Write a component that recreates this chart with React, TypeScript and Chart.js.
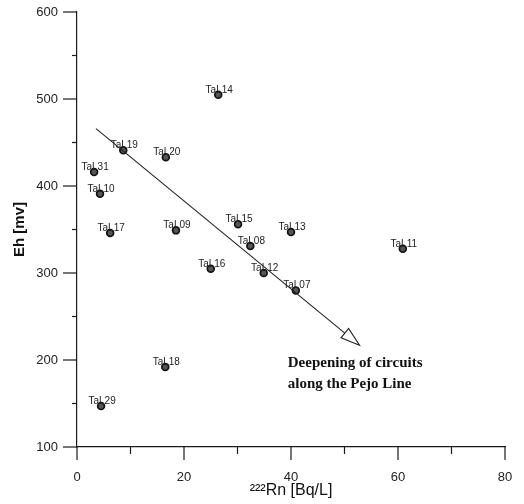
import React, { useEffect, useRef } from "react";
import { Chart, registerables } from "chart.js";

Chart.register(...registerables);

// ---- data ----
const sampleNames = ["TaL14", "TaL19", "TaL20", "TaL31", "TaL10", "TaL17", "TaL09", "TaL15", "TaL13", "TaL08", "TaL16", "TaL12", "TaL07", "TaL18", "TaL29", "TaL11"];
const radonValues = [26.4, 8.65, 16.6, 3.2, 4.3, 6.2, 18.5, 30.1, 40.0, 32.4, 25.0, 34.9, 40.9, 16.5, 4.5, 60.9];
const ehValues = [505, 441, 433, 416, 391, 346, 349, 356, 347, 331, 305, 300, 280, 192, 147, 328];

const xMajorTicks = [0, 20, 40, 60, 80];
const xMinorTicks = [10, 30, 50, 70];
const yMajorTicks = [100, 200, 300, 400, 500, 600];
const yMinorTicks = [150, 250, 350, 450, 550];

const trendStart = [3.55, 466];
const trendEnd = [52.8, 217];

const noteLines = ["Deepening of circuits", "along the Pejo Line"];
const noteAnchor = [39.4, 192];

const xTitle = "\u00B2\u00B2\u00B2Rn [Bq/L]";
const yTitle = "Eh [mv]";

const SANS = "'Liberation Sans', Arial, sans-serif";
const SERIF = "'Liberation Serif', 'Times New Roman', serif";

const decorPlugin = {
  id: "decor",
  afterDatasetsDraw(chart: any) {
    const ctx = chart.ctx;
    const xs = chart.scales.x;
    const ys = chart.scales.y;
    const area = chart.chartArea;
    ctx.save();
    ctx.strokeStyle = "#1a1a1a";
    ctx.lineWidth = 1.2;
    const seg = (x1: number, y1: number, x2: number, y2: number) => {
      ctx.beginPath();
      ctx.moveTo(x1, y1);
      ctx.lineTo(x2, y2);
      ctx.stroke();
    };
    xMajorTicks.forEach((v) => {
      const px = xs.getPixelForValue(v);
      seg(px, area.bottom, px, area.bottom + 13);
    });
    xMinorTicks.forEach((v) => {
      const px = xs.getPixelForValue(v);
      seg(px, area.bottom, px, area.bottom + 7);
    });
    yMajorTicks.forEach((v) => {
      const py = ys.getPixelForValue(v);
      seg(area.left - 14, py, area.left, py);
    });
    yMinorTicks.forEach((v) => {
      const py = ys.getPixelForValue(v);
      seg(area.left - 5, py, area.left, py);
    });

    // trend arrow
    const sx = xs.getPixelForValue(trendStart[0]);
    const sy = ys.getPixelForValue(trendStart[1]);
    const tx = xs.getPixelForValue(trendEnd[0]);
    const ty = ys.getPixelForValue(trendEnd[1]);
    const dx = tx - sx;
    const dy = ty - sy;
    const len = Math.hypot(dx, dy);
    const ux = dx / len;
    const uy = dy / len;
    const headLen = 19;
    const headHalf = 6;
    const bx = tx - ux * headLen;
    const by = ty - uy * headLen;
    ctx.lineWidth = 1.1;
    ctx.strokeStyle = "#222";
    seg(sx, sy, bx, by);
    ctx.beginPath();
    ctx.moveTo(tx, ty);
    ctx.lineTo(bx - uy * headHalf, by + ux * headHalf);
    ctx.lineTo(bx + uy * headHalf, by - ux * headHalf);
    ctx.closePath();
    ctx.fillStyle = "#fff";
    ctx.fill();
    ctx.stroke();

    // point labels
    ctx.font = `10px ${SANS}`;
    ctx.fillStyle = "#222";
    ctx.textAlign = "center";
    ctx.textBaseline = "alphabetic";
    sampleNames.forEach((name, i) => {
      const px = xs.getPixelForValue(radonValues[i]);
      const py = ys.getPixelForValue(ehValues[i]);
      ctx.fillText(name, px + 1, py - 2);
    });

    // note
    ctx.font = `bold 15px ${SERIF}`;
    ctx.fillStyle = "#111";
    ctx.textAlign = "left";
    const nx = xs.getPixelForValue(noteAnchor[0]);
    const ny = ys.getPixelForValue(noteAnchor[1]);
    noteLines.forEach((line, i) => {
      ctx.fillText(line, nx, ny + i * 21);
    });
    ctx.restore();
  },
};

export default function App() {
  const canvasRef = useRef<HTMLCanvasElement | null>(null);

  useEffect(() => {
    const canvas = canvasRef.current;
    if (!canvas) return;
    const chart = new Chart(canvas, {
      type: "scatter",
      data: {
        datasets: [
          {
            data: radonValues.map((x, i) => ({ x, y: ehValues[i] })),
            pointRadius: 3.4,
            pointBorderWidth: 1.7,
            pointBorderColor: "#111",
            pointBackgroundColor: "#555",
          },
        ],
      },
      options: {
        responsive: false,
        animation: false,
        devicePixelRatio: 1,
        layout: { padding: { top: 12, right: 19, left: 0, bottom: 0 } },
        plugins: { legend: { display: false }, tooltip: { enabled: false } },
        scales: {
          x: {
            type: "linear",
            min: 0,
            max: 80,
            afterFit: (s: any) => {
              s.height = 57;
            },
            grid: { display: true, drawOnChartArea: false, drawTicks: true, tickLength: 23, color: "rgba(0,0,0,0)" },
            border: { display: true, color: "#1a1a1a", width: 1.2 },
            ticks: {
              stepSize: 20,
              autoSkip: false,
              maxRotation: 0,
              padding: 0,
              color: "#222",
              font: { size: 13, family: SANS },
            },
            title: {
              display: true,
              text: xTitle,
              color: "#111",
              font: { size: 16, family: SANS },
              padding: { top: 0, bottom: 4 },
            },
          },
          y: {
            type: "linear",
            min: 100,
            max: 600,
            afterFit: (s: any) => {
              s.width = 77;
            },
            grid: { display: true, drawOnChartArea: false, drawTicks: true, tickLength: 19, color: "rgba(0,0,0,0)" },
            border: { display: true, color: "#1a1a1a", width: 1.2 },
            ticks: {
              stepSize: 100,
              autoSkip: false,
              padding: 0,
              color: "#222",
              font: { size: 13, family: SANS },
            },
            title: {
              display: true,
              text: yTitle,
              color: "#111",
              font: { size: 15, family: SANS, weight: "bold" },
              padding: { top: 11, bottom: 0 },
            },
          },
        },
      },
      plugins: [decorPlugin],
    });
    return () => chart.destroy();
  }, []);

  return (
    <div style={{ position: "absolute", left: 0, top: 0, width: 524, height: 504, background: "#fff" }}>
      <canvas ref={canvasRef} width={524} height={504} />
    </div>
  );
}
